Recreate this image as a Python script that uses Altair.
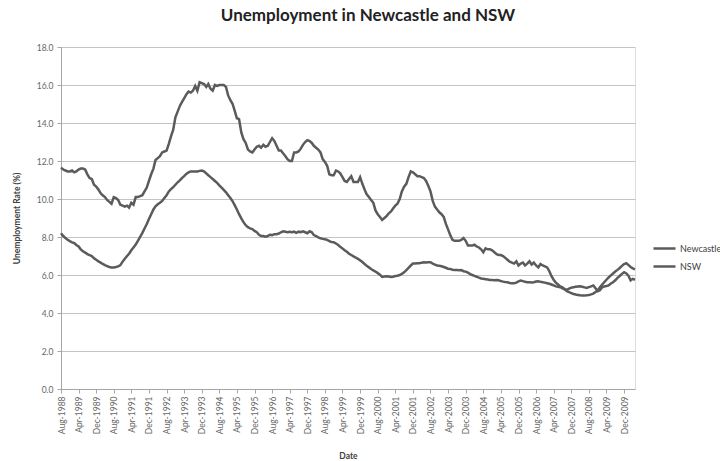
import altair as alt
import pandas as pd

# Monthly unemployment rate (%), Aug-1988 to May-2010
newcastle = [
    11.65, 11.55, 11.5, 11.45, 11.45, 11.5, 11.4, 11.45, 11.55, 11.6,
    11.6, 11.55, 11.3, 11.1, 11.05, 10.75, 10.65, 10.5, 10.3, 10.2,
    10.1, 9.95, 9.85, 9.75, 10.1, 10.05, 9.95, 9.7, 9.65, 9.6,
    9.65, 9.55, 9.8, 9.7, 10.1, 10.1, 10.15, 10.2, 10.4, 10.6,
    10.95, 11.3, 11.6, 12.05, 12.15, 12.25, 12.45, 12.5, 12.55, 12.9,
    13.3, 13.65, 14.3, 14.6, 14.9, 15.1, 15.3, 15.5, 15.65, 15.6,
    15.7, 15.95, 15.7, 16.15, 16.1, 16.05, 15.9, 16.05, 15.8, 15.7,
    16.0, 15.95, 16.0, 16.0, 16.0, 15.9, 15.45, 15.2, 15.0, 14.65,
    14.25, 14.2, 13.5, 13.15, 12.95, 12.6, 12.5, 12.45, 12.6, 12.75,
    12.8, 12.7, 12.85, 12.75, 12.8, 13.0, 13.2, 13.05, 12.8, 12.55,
    12.55, 12.4, 12.25, 12.1, 12.0, 12.0, 12.45, 12.45, 12.5, 12.65,
    12.85, 13.0, 13.1, 13.05, 12.95, 12.8, 12.7, 12.6, 12.45, 12.1,
    11.95, 11.75, 11.3, 11.25, 11.25, 11.5, 11.45, 11.35, 11.15, 10.95,
    10.9, 11.05, 11.2, 10.9, 10.9, 10.9, 11.15, 10.8, 10.5, 10.25,
    10.1, 9.95, 9.8, 9.4, 9.2, 9.05, 8.9, 9.0, 9.1, 9.25,
    9.35, 9.5, 9.65, 9.75, 10.0, 10.4, 10.65, 10.8, 11.15, 11.45,
    11.4, 11.3, 11.2, 11.2, 11.15, 11.1, 10.95, 10.7, 10.4, 9.9,
    9.6, 9.45, 9.3, 9.2, 9.05, 8.7, 8.4, 8.1, 7.85, 7.8,
    7.8, 7.8, 7.85, 7.95, 7.8, 7.55, 7.55, 7.55, 7.6, 7.5,
    7.45, 7.35, 7.2, 7.4, 7.35, 7.35, 7.3, 7.2, 7.1, 7.05,
    7.05, 7.0, 6.9, 6.8, 6.7, 6.65, 6.6, 6.72, 6.5, 6.6,
    6.65, 6.5, 6.6, 6.72, 6.55, 6.65, 6.5, 6.4, 6.58, 6.5,
    6.45, 6.4, 6.2, 5.95, 5.75, 5.6, 5.5, 5.4, 5.35, 5.25,
    5.15, 5.1, 5.05, 5.0, 4.97, 4.95, 4.93, 4.92, 4.92, 4.93,
    4.95, 4.98, 5.02, 5.1, 5.2, 5.35, 5.5, 5.62, 5.75, 5.87,
    5.98, 6.08, 6.18, 6.27, 6.37, 6.48, 6.58, 6.62, 6.52, 6.42,
    6.35, 6.3,
]

nsw = [
    8.2, 8.05, 7.95, 7.85, 7.78, 7.72, 7.68, 7.58, 7.5, 7.35,
    7.25, 7.18, 7.1, 7.05, 7.0, 6.88, 6.8, 6.72, 6.65, 6.58,
    6.52, 6.47, 6.42, 6.4, 6.4, 6.42, 6.45, 6.52, 6.7, 6.85,
    7.0, 7.12, 7.3, 7.45, 7.6, 7.8, 8.0, 8.22, 8.45, 8.68,
    8.95, 9.2, 9.45, 9.62, 9.72, 9.8, 9.9, 10.05, 10.2, 10.4,
    10.52, 10.62, 10.75, 10.88, 10.98, 11.1, 11.2, 11.32, 11.4, 11.45,
    11.45, 11.45, 11.45, 11.48, 11.5, 11.45, 11.35, 11.25, 11.15, 11.05,
    10.95, 10.85, 10.72, 10.6, 10.48, 10.35, 10.2, 10.05, 9.88, 9.68,
    9.45, 9.2, 8.98, 8.78, 8.62, 8.52, 8.45, 8.42, 8.32, 8.25,
    8.12, 8.05, 8.05, 8.02, 8.05, 8.12, 8.1, 8.15, 8.15, 8.18,
    8.25, 8.3, 8.28, 8.25, 8.27, 8.25, 8.28, 8.22, 8.28, 8.25,
    8.3, 8.25, 8.2, 8.3, 8.25, 8.1, 8.05, 7.98, 7.93, 7.9,
    7.88, 7.85, 7.78, 7.74, 7.72, 7.66, 7.58, 7.48, 7.4, 7.3,
    7.22, 7.12, 7.05, 6.98, 6.92, 6.85, 6.77, 6.68, 6.58, 6.48,
    6.4, 6.32, 6.24, 6.18, 6.1, 6.02, 5.9, 5.92, 5.93, 5.92,
    5.9, 5.91, 5.95, 5.96, 6.0, 6.06, 6.14, 6.26, 6.38, 6.5,
    6.6, 6.6, 6.62, 6.62, 6.65, 6.67, 6.66, 6.67, 6.67, 6.6,
    6.55, 6.5, 6.49, 6.46, 6.42, 6.38, 6.33, 6.32, 6.28, 6.26,
    6.26, 6.25, 6.26, 6.2, 6.18, 6.12, 6.05, 6.0, 5.95, 5.91,
    5.86, 5.82, 5.8, 5.78, 5.76, 5.74, 5.74, 5.73, 5.74, 5.72,
    5.68, 5.65, 5.63, 5.62, 5.58, 5.57, 5.57, 5.6, 5.66, 5.71,
    5.68, 5.64, 5.62, 5.62, 5.6, 5.62, 5.66, 5.67, 5.64, 5.62,
    5.6, 5.57, 5.54, 5.5, 5.45, 5.4, 5.38, 5.36, 5.3, 5.25,
    5.22, 5.28, 5.33, 5.36, 5.38, 5.4, 5.41, 5.38, 5.35, 5.32,
    5.36, 5.4, 5.45, 5.3, 5.15, 5.2, 5.35, 5.4, 5.42, 5.45,
    5.55, 5.62, 5.72, 5.85, 5.95, 6.06, 6.15, 6.08, 5.95, 5.72,
    5.8, 5.75,
]

series_names = ["Newcastle", "NSW"]

tick_labels = [
    "Aug-1988", "Apr-1989", "Dec-1989", "Aug-1990", "Apr-1991", "Dec-1991",
    "Aug-1992", "Apr-1993", "Dec-1993", "Aug-1994", "Apr-1995", "Dec-1995",
    "Aug-1996", "Apr-1997", "Dec-1997", "Aug-1998", "Apr-1999", "Dec-1999",
    "Aug-2000", "Apr-2001", "Dec-2001", "Aug-2002", "Apr-2003", "Dec-2003",
    "Aug-2004", "Apr-2005", "Dec-2005", "Aug-2006", "Apr-2007", "Dec-2007",
    "Aug-2008", "Apr-2009", "Dec-2009",
]

months = pd.date_range("1988-08-01", periods=len(newcastle), freq="MS")


def ms(ts):
    return int(pd.Timestamp(ts).value // 10**6)


df = pd.concat([
    pd.DataFrame({"Date": [ms(m) for m in months], "Rate": newcastle, "Series": series_names[0]}),
    pd.DataFrame({"Date": [ms(m) for m in months], "Rate": nsw, "Series": series_names[1]}),
])

tick_values = [ms(pd.to_datetime(t, format="%b-%Y")) for t in tick_labels]

FONT = "Lato"
LINE = "#5b5b5b"

chart = alt.Chart(df).mark_line(strokeWidth=2.5).encode(
    x=alt.X(
        "Date:T",
        scale=alt.Scale(type="utc", domain=[ms(months[0]), ms(months[-1])]),
        axis=alt.Axis(
            title="Date",
            values=tick_values,
            labelExpr="utcFormat(datum.value, '%b-%Y')",
            labelAngle=270,
            labelAlign="right",
            labelBaseline="middle",
            labelPadding=3,
            labelFontSize=8.5,
            labelColor="#666666",
            labelFont=FONT,
            labelOverlap=False,
            tickSize=4,
            tickColor="#a6a6a6",
            domainColor="#a6a6a6",
            grid=False,
            titleFont=FONT,
            titleFontSize=8.5,
            titleFontWeight="bold",
            titleColor="#404040",
            titleBaseline="top",
            titleY=62,
        ),
    ),
    y=alt.Y(
        "Rate:Q",
        scale=alt.Scale(domain=[0, 18], nice=False),
        axis=alt.Axis(
            title="Unemployment Rate (%)",
            values=[0, 2, 4, 6, 8, 10, 12, 14, 16, 18],
            format=".1f",
            labelFontSize=8.5,
            labelColor="#666666",
            labelFont=FONT,
            labelPadding=4,
            tickSize=4,
            tickColor="#a6a6a6",
            domainColor="#a6a6a6",
            gridColor="#c4c4c4",
            gridWidth=1,
            titleFont=FONT,
            titleFontSize=8.5,
            titleFontWeight="bold",
            titleColor="#404040",
            titleX=-40,
            titleY=171,
            titleAlign="center",
        ),
    ),
    color=alt.Color(
        "Series:N",
        scale=alt.Scale(domain=series_names, range=[LINE, LINE]),
        legend=alt.Legend(
            title=None,
            orient="none",
            legendX=591,
            legendY=189,
            symbolType="stroke",
            symbolSize=484,
            symbolStrokeWidth=2.5,
            rowPadding=-3,
            labelOffset=3,
            labelFont=FONT,
            labelFontSize=9,
            labelColor="#404040",
        ),
    ),
).properties(
    width=574,
    height=342,
    autosize=alt.AutoSizeParams(type="none"),
    padding={"left": 61, "top": 47, "right": 85, "bottom": 72},
    title=alt.TitleParams(
        "Unemployment in Newcastle and NSW",
        font=FONT,
        fontSize=17,
        fontWeight="bold",
        color="#222222",
        anchor="middle",
        dx=20,
        offset=18,
    ),
).configure_view(stroke=None).configure(background="white")

chart.save("out.html", embed_options={"renderer": "svg", "actions": False})
